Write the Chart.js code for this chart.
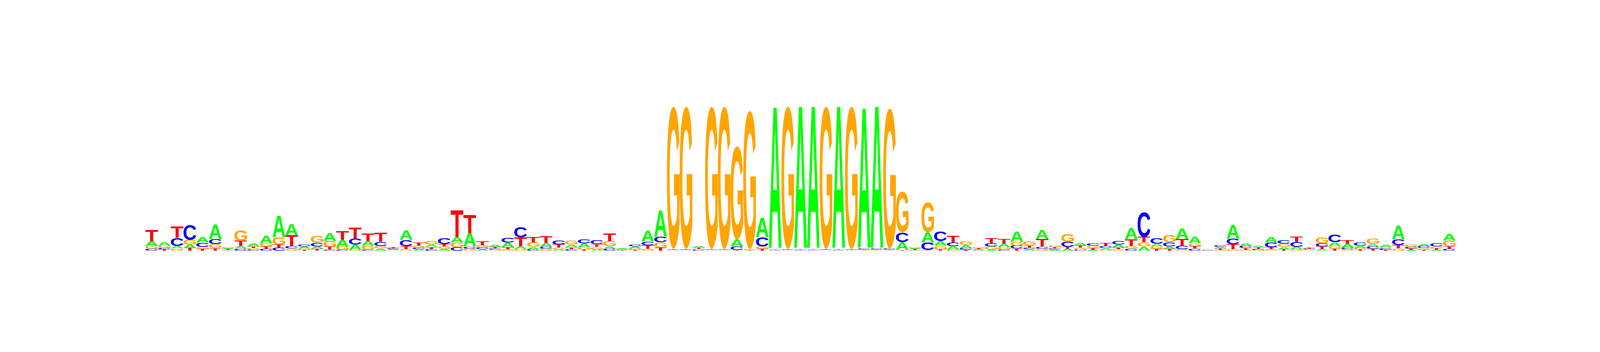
<!DOCTYPE html>
<html>
<head>
<meta charset="utf-8">
<title>Sequence logo</title>
<script src="https://cdn.jsdelivr.net/npm/chart.js@4.4.0/dist/chart.umd.min.js"></script>
<style>
  html, body { margin: 0; padding: 0; background: #fff; overflow: hidden; }
  #wrap { position: relative; width: 100vw; height: 100vh; }
</style>
</head>
<body>
<div id="wrap"><canvas id="logo"></canvas></div>
<script>
// information content (bits) of each base at positions 1..103
const A = [0.068,0.048,0.032,0.048,0.077,0.197,0.013,0.032,0.039,0.106,
           0.299,0.156,0.027,0.036,0.108,0.099,0.075,0.061,0.030,0.011,
           0.134,0.022,0.032,0.027,0.075,0.186,0.022,0.030,0.061,0.036,
           0.036,0.054,0.018,0.036,0.052,0.018,0.036,0.011,0.029,0.147,
           0.360,0.009,0.009,0.018,0.009,0.009,0.099,0.009,0.260,1.944,
           0.009,1.953,1.953,0.009,1.953,0.009,1.923,1.953,0.009,0.108,
           0.013,0.140,0.063,0.047,0.048,0.011,0.013,0.048,0.138,0.022,
           0.122,0.014,0.025,0.036,0.013,0.022,0.039,0.152,0.057,0.036,
           0.030,0.143,0.093,0.007,0.022,0.185,0.036,0.023,0.079,0.036,
           0.030,0.009,0.022,0.050,0.052,0.030,0.036,0.025,0.186,0.013,
           0.030,0.016,0.093];
const C = [0.027,0.020,0.113,0.206,0.057,0.072,0.009,0.030,0.016,0.027,
           0.041,0.032,0.029,0.050,0.014,0.014,0.081,0.014,0.059,0.013,
           0.086,0.023,0.022,0.081,0.048,0.029,0.025,0.016,0.063,0.140,
           0.018,0.029,0.054,0.018,0.054,0.059,0.025,0.009,0.030,0.050,
           0.075,0.009,0.009,0.011,0.009,0.009,0.047,0.009,0.129,0.009,
           0.009,0.009,0.009,0.009,0.009,0.009,0.013,0.011,0.011,0.134,
           0.009,0.102,0.134,0.048,0.018,0.009,0.045,0.014,0.039,0.023,
           0.030,0.016,0.068,0.013,0.032,0.027,0.048,0.030,0.341,0.077,
           0.057,0.047,0.030,0.005,0.023,0.077,0.034,0.014,0.066,0.048,
           0.063,0.011,0.043,0.102,0.022,0.041,0.034,0.018,0.077,0.022,
           0.029,0.041,0.025];
const G = [0.036,0.032,0.030,0.061,0.030,0.054,0.014,0.147,0.020,0.039,
           0.099,0.030,0.018,0.095,0.081,0.039,0.011,0.057,0.036,0.009,
           0.022,0.025,0.047,0.031,0.063,0.027,0.027,0.014,0.018,0.025,
           0.061,0.027,0.023,0.059,0.032,0.034,0.070,0.005,0.018,0.029,
           0.072,1.953,1.953,0.014,1.953,1.953,1.281,1.900,0.034,0.009,
           1.953,0.009,0.009,1.953,0.009,1.953,0.009,0.009,1.927,0.556,
           0.014,0.412,0.050,0.018,0.050,0.014,0.043,0.036,0.054,0.059,
           0.027,0.030,0.108,0.030,0.030,0.013,0.022,0.036,0.059,0.034,
           0.097,0.022,0.036,0.004,0.013,0.022,0.013,0.011,0.022,0.041,
           0.025,0.007,0.086,0.036,0.020,0.022,0.072,0.023,0.030,0.036,
           0.023,0.022,0.084];
const T = [0.161,0.018,0.161,0.039,0.025,0.036,0.011,0.072,0.022,0.034,
           0.043,0.149,0.013,0.025,0.041,0.120,0.154,0.102,0.125,0.014,
           0.039,0.043,0.030,0.032,0.366,0.246,0.054,0.023,0.032,0.122,
           0.077,0.091,0.045,0.030,0.018,0.036,0.108,0.007,0.013,0.048,
           0.043,0.009,0.009,0.016,0.009,0.009,0.009,0.005,0.025,0.009,
           0.009,0.009,0.009,0.009,0.009,0.009,0.009,0.009,0.009,0.009,
           0.011,0.009,0.018,0.090,0.016,0.013,0.066,0.059,0.030,0.030,
           0.102,0.018,0.030,0.032,0.027,0.039,0.023,0.093,0.072,0.025,
           0.029,0.090,0.034,0.002,0.018,0.066,0.022,0.022,0.027,0.018,
           0.072,0.016,0.038,0.030,0.054,0.018,0.025,0.013,0.050,0.020,
           0.013,0.018,0.032];

const bases = ['A', 'C', 'G', 'T'];
const baseColors = { A: '#00ff00', C: '#0000ff', G: '#ffa500', T: '#ff0000' };
const positions = A.map((_, i) => String(i + 1));

// stack per column: smallest letter at the bottom, biggest on top
const series = { A: A, C: C, G: G, T: T };
const ranked = positions.map((_, i) =>
    bases.map(b => ({ b: b, v: series[b][i] })).sort((p, q) => p.v - q.v));

const datasets = [0, 1, 2, 3].map(r => ({
    label: 'rank' + r,
    data: ranked.map(col => col[r].v),
    letters: ranked.map(col => col[r].b),
    backgroundColor: 'rgba(0,0,0,0)',
    borderWidth: 0,
    barPercentage: 1,
    categoryPercentage: 1
}));

// draws each bar as a letter stretched to fill it
const letterPlugin = {
    id: 'letters',
    afterDatasetsDraw(chart) {
        const ctx = chart.ctx;
        ctx.save();
        ctx.font = 'bold 200px "Liberation Sans", Arial, sans-serif';
        ctx.textAlign = 'left';
        ctx.textBaseline = 'alphabetic';
        const metrics = {};
        bases.forEach(b => { metrics[b] = ctx.measureText(b); });
        chart.data.datasets.forEach((ds, di) => {
            const meta = chart.getDatasetMeta(di);
            meta.data.forEach((el, i) => {
                const p = el.getProps(['x', 'y', 'base', 'width'], true);
                const h = p.base - p.y;
                if (h <= 0.2) return;
                const letter = ds.letters[i];
                const m = metrics[letter];
                const gw = m.actualBoundingBoxLeft + m.actualBoundingBoxRight;
                const gh = m.actualBoundingBoxAscent + m.actualBoundingBoxDescent;
                ctx.save();
                ctx.translate(p.x - p.width / 2, p.y);
                ctx.scale(p.width / gw, h / gh);
                ctx.fillStyle = baseColors[letter];
                ctx.fillText(letter, m.actualBoundingBoxLeft, m.actualBoundingBoxAscent);
                ctx.restore();
            });
        });
        ctx.restore();
    }
};

new Chart(document.getElementById('logo'), {
    type: 'bar',
    data: { labels: positions, datasets: datasets },
    options: {
        responsive: true,
        maintainAspectRatio: false,
        animation: false,
        // plot area as fractions of the 4800x900 frame
        layout: {
            padding: (c) => {
                const w = c.chart.width, h = c.chart.height;
                return {
                    left: w * 436 / 4800,
                    right: w * 433 / 4800,
                    top: h * 269 / 900,
                    bottom: h * 259 / 900
                };
            }
        },
        plugins: { legend: { display: false }, tooltip: { enabled: false } },
        scales: {
            x: { stacked: true, display: false },
            y: { stacked: true, display: false, min: 0, max: 2 }
        }
    },
    plugins: [letterPlugin]
});
</script>
</body>
</html>
